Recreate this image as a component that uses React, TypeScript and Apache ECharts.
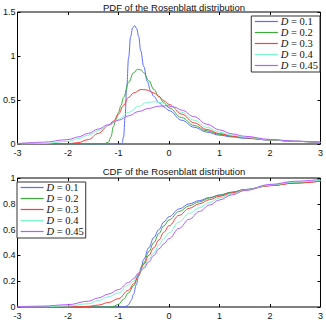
import React, { useEffect, useRef } from "react";
import * as echarts from "echarts";

const names = ["D = 0.1", "D = 0.2", "D = 0.3", "D = 0.4", "D = 0.45"];
const colors = ["#5a6cff", "#3caa3c", "#ff3b3b", "#78f7c8", "#b45cff"];
const xTicks = [-3, -2, -1, 0, 1, 2, 3];

// PDF curves
const pdfX1 = [-3, -1, -0.93, -0.9, -0.87, -0.84, -0.8, -0.76, -0.72, -0.68, -0.64, -0.6, -0.56, -0.5, -0.43, -0.36, -0.3, -0.2, -0.1, 0, 0.25, 0.5, 0.75, 1, 1.25, 1.5, 2, 2.5, 3];
const pdfY1 = [0, 0, 0.005, 0.08, 0.3, 0.62, 0.98, 1.22, 1.32, 1.345, 1.31, 1.22, 1.06, 0.88, 0.71, 0.6, 0.54, 0.47, 0.42, 0.38, 0.27, 0.19, 0.135, 0.1, 0.08, 0.065, 0.045, 0.03, 0.018];
const pdfX2 = [-3, -1.3, -1.2, -1.15, -1.1, -1.05, -1, -0.95, -0.9, -0.8, -0.7, -0.62, -0.55, -0.5, -0.4, -0.3, -0.2, -0.1, 0, 0.25, 0.5, 0.75, 1, 1.25, 1.5, 2, 2.5, 3];
const pdfY2 = [0, 0, 0.02, 0.08, 0.2, 0.28, 0.36, 0.44, 0.53, 0.7, 0.81, 0.85, 0.84, 0.81, 0.72, 0.62, 0.54, 0.47, 0.41, 0.3, 0.21, 0.15, 0.11, 0.087, 0.07, 0.045, 0.03, 0.018];
const pdfX3 = [-3, -2, -1.8, -1.6, -1.4, -1.2, -1.1, -1, -0.9, -0.8, -0.7, -0.55, -0.45, -0.3, -0.2, -0.1, 0, 0.25, 0.5, 0.75, 1, 1.25, 1.5, 2, 2.5, 3];
const pdfY3 = [0, 0.003, 0.015, 0.05, 0.12, 0.21, 0.26, 0.34, 0.44, 0.53, 0.58, 0.62, 0.615, 0.58, 0.54, 0.49, 0.45, 0.34, 0.24, 0.165, 0.118, 0.09, 0.072, 0.046, 0.03, 0.018];
const pdfX4 = [-3, -2.5, -2, -1.8, -1.6, -1.4, -1.2, -1, -0.8, -0.6, -0.45, -0.3, -0.15, 0, 0.25, 0.5, 0.75, 1, 1.25, 1.5, 2, 2.5, 3];
const pdfY4 = [0, 0.005, 0.03, 0.06, 0.1, 0.15, 0.21, 0.28, 0.36, 0.43, 0.47, 0.48, 0.47, 0.44, 0.36, 0.27, 0.19, 0.135, 0.1, 0.077, 0.047, 0.03, 0.018];
const pdfX5 = [-3, -2.5, -2, -1.8, -1.6, -1.4, -1.2, -1, -0.8, -0.6, -0.4, -0.2, -0.05, 0.1, 0.25, 0.5, 0.75, 1, 1.25, 1.5, 2, 2.5, 3];
const pdfY5 = [0.005, 0.02, 0.05, 0.08, 0.12, 0.17, 0.22, 0.27, 0.32, 0.37, 0.405, 0.43, 0.435, 0.42, 0.385, 0.31, 0.225, 0.16, 0.115, 0.088, 0.052, 0.032, 0.02];

// CDF curves
const cdfX1 = [-3, -0.9, -0.85, -0.8, -0.75, -0.7, -0.65, -0.6, -0.55, -0.5, -0.4, -0.3, -0.2, -0.1, 0, 0.2, 0.4, 0.6, 0.8, 1, 1.25, 1.5, 2, 2.5, 3];
const cdfY1 = [0, 0, 0.005, 0.02, 0.05, 0.1, 0.17, 0.24, 0.31, 0.37, 0.46, 0.54, 0.6, 0.66, 0.7, 0.76, 0.8, 0.825, 0.848, 0.868, 0.89, 0.91, 0.942, 0.963, 0.978];
const cdfX2 = [-3, -1.2, -1.1, -1, -0.9, -0.8, -0.7, -0.6, -0.5, -0.4, -0.3, -0.2, -0.1, 0, 0.2, 0.4, 0.6, 0.8, 1, 1.25, 1.5, 2, 2.5, 3];
const cdfY2 = [0, 0, 0.005, 0.02, 0.06, 0.11, 0.165, 0.25, 0.34, 0.43, 0.5, 0.57, 0.63, 0.675, 0.74, 0.785, 0.815, 0.845, 0.867, 0.89, 0.91, 0.942, 0.962, 0.977];
const cdfX3 = [-3, -2, -1.6, -1.4, -1.2, -1, -0.8, -0.7, -0.6, -0.5, -0.4, -0.3, -0.2, -0.1, 0, 0.2, 0.4, 0.6, 0.8, 1, 1.25, 1.5, 2, 2.5, 3];
const cdfY3 = [0, 0, 0.005, 0.015, 0.035, 0.065, 0.13, 0.18, 0.25, 0.33, 0.4, 0.46, 0.52, 0.58, 0.63, 0.71, 0.765, 0.8, 0.832, 0.858, 0.885, 0.907, 0.94, 0.96, 0.975];
const cdfX4 = [-3, -2.5, -2, -1.6, -1.4, -1.2, -1, -0.8, -0.7, -0.6, -0.5, -0.4, -0.3, -0.2, -0.1, 0, 0.2, 0.4, 0.6, 0.8, 1, 1.25, 1.5, 2, 2.5, 3];
const cdfY4 = [0, 0.002, 0.008, 0.025, 0.05, 0.08, 0.11, 0.17, 0.2, 0.26, 0.31, 0.37, 0.42, 0.48, 0.53, 0.575, 0.66, 0.725, 0.77, 0.81, 0.845, 0.878, 0.905, 0.945, 0.968, 0.982];
const cdfX5 = [-3, -2.5, -2, -1.6, -1.4, -1.2, -1, -0.8, -0.7, -0.6, -0.5, -0.4, -0.3, -0.2, -0.1, 0, 0.2, 0.4, 0.6, 0.8, 1, 1.25, 1.5, 2, 2.5, 3];
const cdfY5 = [0.002, 0.007, 0.018, 0.045, 0.07, 0.1, 0.135, 0.19, 0.22, 0.265, 0.3, 0.35, 0.4, 0.45, 0.49, 0.53, 0.61, 0.68, 0.74, 0.79, 0.83, 0.87, 0.903, 0.95, 0.975, 0.99];

const pdfXs = [pdfX1, pdfX2, pdfX3, pdfX4, pdfX5];
const pdfYs = [pdfY1, pdfY2, pdfY3, pdfY4, pdfY5];
const cdfXs = [cdfX1, cdfX2, cdfX3, cdfX4, cdfX5];
const cdfYs = [cdfY1, cdfY2, cdfY3, cdfY4, cdfY5];

const pair = (xs: number[], ys: number[]) => xs.map((x, i) => [x, ys[i]]);

const labelFont = { fontSize: 9, color: "#111", fontFamily: "Liberation Sans, Arial, sans-serif" };

function xAxes(gridIndex: number) {
  return [
    {
      type: "value", gridIndex, min: -3, max: 3, interval: 1, position: "bottom",
      axisLine: { show: false, onZero: false }, splitLine: { show: false },
      axisTick: { inside: true, length: 3, lineStyle: { color: "#000" } },
      axisLabel: { ...labelFont, margin: 4, customValues: xTicks },
    },
    {
      type: "value", gridIndex, min: -3, max: 3, interval: 1, position: "top",
      axisLine: { show: false, onZero: false }, splitLine: { show: false },
      axisTick: { inside: true, length: 3, lineStyle: { color: "#000" } },
      axisLabel: { show: false },
    },
  ];
}

function yAxes(gridIndex: number, max: number, interval: number) {
  return [
    {
      type: "value", gridIndex, min: 0, max, interval, position: "left",
      axisLine: { show: false, onZero: false }, splitLine: { show: false },
      axisTick: { inside: true, length: 3, lineStyle: { color: "#000" } },
      axisLabel: { ...labelFont, margin: 2 },
    },
    {
      type: "value", gridIndex, min: 0, max, interval, position: "right",
      axisLine: { show: false, onZero: false }, splitLine: { show: false },
      axisTick: { inside: true, length: 3, lineStyle: { color: "#000" } },
      axisLabel: { show: false },
    },
  ];
}

const legendData = names.map((name, k) => ({
  name,
  itemStyle: { opacity: 0, borderWidth: 0 },
  lineStyle: { color: colors[k], width: 1.2, opacity: 1 },
}));

const serif = "Liberation Serif, DejaVu Serif, serif";

const legendCommon = {
  orient: "vertical",
  backgroundColor: "#fff",
  borderColor: "#333",
  borderWidth: 1,
  padding: [0, 2, 1, 3],
  itemGap: 0,
  itemWidth: 23,
  itemHeight: 8.6,
  data: legendData,
  selectedMode: false,
  formatter: (name: string) => "{i|D}{n| = " + name.slice(4) + "}",
  textStyle: {
    fontFamily: serif,
    fontSize: 10.5,
    lineHeight: 8.6,
    padding: [0, 0, 0, -2],
    rich: {
      i: { fontFamily: serif, fontStyle: "italic", fontSize: 10.5, lineHeight: 8.6, color: "#111" },
      n: { fontFamily: serif, fontSize: 10.5, lineHeight: 8.6, color: "#111" },
    },
  },
};

export default function App() {
  const ref = useRef<HTMLDivElement>(null);
  useEffect(() => {
    if (!ref.current) return;
    const chart = echarts.init(ref.current, undefined, { renderer: "svg" });
    const series: any[] = [];
    names.forEach((name, k) => {
      series.push({
        type: "line", name, xAxisIndex: 0, yAxisIndex: 0,
        data: pair(pdfXs[k], pdfYs[k]), symbol: "none", smooth: 0.4, smoothMonotone: "x",
        lineStyle: { width: 1, color: colors[k] }, itemStyle: { color: colors[k] }, z: 2,
      });
    });
    names.forEach((name, k) => {
      series.push({
        type: "line", name, xAxisIndex: 2, yAxisIndex: 2,
        data: pair(cdfXs[k], cdfYs[k]), symbol: "none", smooth: 0.4, smoothMonotone: "x",
        lineStyle: { width: 1, color: colors[k] }, itemStyle: { color: colors[k] }, z: 2,
      });
    });
    chart.setOption({
      animation: false,
      backgroundColor: "#fff",
      title: [
        { text: "PDF of the Rosenblatt distribution", left: 169, top: -3, textAlign: "center",
          textStyle: { fontSize: 9.5, fontWeight: "normal", color: "#111", fontFamily: "Liberation Sans, Arial, sans-serif" } },
        { text: "CDF of the Rosenblatt distribution", left: 169, top: 161, textAlign: "center",
          textStyle: { fontSize: 9.5, fontWeight: "normal", color: "#111", fontFamily: "Liberation Sans, Arial, sans-serif" } },
      ],
      grid: [
        { left: 14, top: 12, width: 310, height: 132, show: true, borderColor: "#000", borderWidth: 1, backgroundColor: "transparent" },
        { left: 14, top: 178, width: 310, height: 131, show: true, borderColor: "#000", borderWidth: 1, backgroundColor: "transparent" },
      ],
      xAxis: [...xAxes(0), ...xAxes(1)],
      yAxis: [...yAxes(0, 1.5, 0.5), ...yAxes(1, 1, 0.2)],
      legend: [
        { ...legendCommon, right: 6, top: 16 },
        { ...legendCommon, left: 17, top: 182 },
      ],
      series,
    });
    return () => chart.dispose();
  }, []);
  return <div ref={ref} style={{ position: "fixed", left: 0, top: 0, width: 326, height: 320 }} />;
}
